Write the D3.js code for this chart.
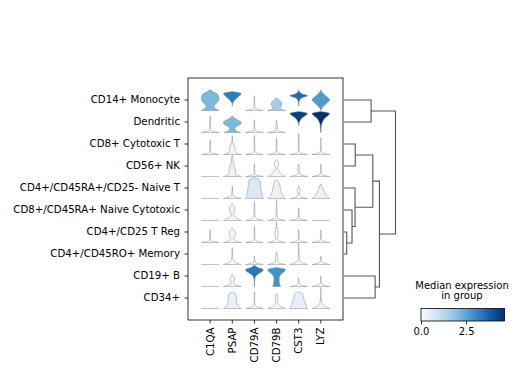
<!DOCTYPE html>
<html>
<head>
<meta charset="utf-8">
<script src="https://cdn.jsdelivr.net/npm/d3@7"></script>
<style>
  body { margin: 0; background: #fff; }
  svg { display: block; font-family: "DejaVu Sans", sans-serif; }
</style>
</head>
<body>
<svg id="chart" width="519" height="374"></svg>
<script>
const genes = ["C1QA", "PSAP", "CD79A", "CD79B", "CST3", "LYZ"];
const groups = ["CD14+ Monocyte", "Dendritic", "CD8+ Cytotoxic T", "CD56+ NK",
                "CD4+/CD45RA+/CD25- Naive T", "CD8+/CD45RA+ Naive Cytotoxic",
                "CD4+/CD25 T Reg", "CD4+/CD45RO+ Memory", "CD19+ B", "CD34+"];

// median expression per group (rows) and gene (columns)
const medians = [
  [2.1, 3.25, 0, 1.6, 3.55, 2.7],
  [0, 2.1, 0, 0.05, 4.4, 4.63],
  [0, 0.2, 0, 0, 0, 0],
  [0, 0.3, 0, 0.15, 0, 0],
  [0, 0.05, 0.7, 0.3, 0.1, 0.3],
  [0, 0.2, 0, 0.1, 0, 0],
  [0, 0.2, 0, 0.1, 0, 0],
  [0, 0.1, 0, 0.05, 0.1, 0],
  [0, 0.2, 3.35, 2.9, 0, 0],
  [0, 0.35, 0, 0.1, 0.45, 0.1]
];

// violin half widths (relative to widest) at 11 levels from 0 expression up to row max
const violinWidths = [
  [ [1.0, 0.6, 0.45, 0.6, 0.85, 0.97, 1.0, 0.95, 0.78, 0.3, 0],
    [0, 0, 0, 0.02, 0.12, 0.3, 0.55, 0.82, 1.0, 0, 0],
    [1.0, 0.12, 0.05, 0.03, 0.03, 0.03, 0.02, 0, 0, 0, 0],
    [1.0, 0.45, 0.5, 0.62, 0.55, 0.3, 0, 0, 0, 0, 0],
    [0, 0, 0, 0.02, 0.05, 0.12, 0.35, 1.0, 0.35, 0.06, 0],
    [0.02, 0.1, 0.3, 0.55, 0.8, 1.0, 0.85, 0.55, 0.3, 0.08, 0] ],
  [ [1.0, 0.12, 0.05, 0.03, 0.03, 0.03, 0.03, 0.02, 0, 0, 0],
    [0.95, 0.4, 0.3, 0.55, 0.95, 1.0, 0.6, 0.2, 0, 0, 0],
    [1.0, 0.1, 0.04, 0.03, 0.03, 0.02, 0, 0, 0, 0, 0],
    [1.0, 0.12, 0.06, 0.12, 0.05, 0.02, 0, 0, 0, 0, 0],
    [0, 0, 0, 0, 0.02, 0.08, 0.2, 0.4, 0.75, 1.0, 0],
    [0.02, 0.03, 0.04, 0.06, 0.1, 0.18, 0.3, 0.5, 0.8, 1.0, 0] ],
  [ [1.0, 0.12, 0.05, 0.03, 0.03, 0.03, 0.02, 0, 0, 0, 0],
    [1.0, 0.4, 0.3, 0.32, 0.25, 0.12, 0.05, 0.03, 0.02, 0, 0],
    [1.0, 0.12, 0.05, 0.03, 0.03, 0.03, 0.03, 0.03, 0.02, 0, 0],
    [1.0, 0.12, 0.05, 0.03, 0.03, 0.03, 0.03, 0.02, 0, 0, 0],
    [1.0, 0.14, 0.05, 0.03, 0.03, 0.03, 0.03, 0.03, 0.03, 0.02, 0],
    [1.0, 0.14, 0.05, 0.03, 0.03, 0.03, 0.03, 0.02, 0, 0, 0] ],
  [ [1.0, 0, 0, 0, 0, 0, 0, 0, 0, 0, 0],
    [1.0, 0.42, 0.36, 0.36, 0.33, 0.25, 0.14, 0.1, 0.1, 0.06, 0],
    [1.0, 0.12, 0.05, 0.03, 0.03, 0.02, 0, 0, 0, 0, 0],
    [1.0, 0.55, 0.35, 0.2, 0.12, 0.18, 0.25, 0.2, 0, 0, 0],
    [1.0, 0.15, 0.06, 0.08, 0.14, 0.05, 0, 0, 0, 0, 0],
    [1.0, 0.12, 0.05, 0.03, 0.03, 0.02, 0, 0, 0, 0, 0] ],
  [ [1.0, 0, 0, 0, 0, 0, 0, 0, 0, 0, 0],
    [1.0, 0.2, 0.08, 0.04, 0.03, 0.02, 0, 0, 0, 0, 0],
    [1.0, 0.92, 0.86, 0.8, 0.76, 0.73, 0.7, 0.68, 0.66, 0.55, 0],
    [1.0, 0.75, 0.6, 0.52, 0.46, 0.42, 0.38, 0.32, 0.22, 0, 0],
    [1.0, 0.2, 0.08, 0.12, 0.18, 0.05, 0, 0, 0, 0, 0],
    [1.0, 0.7, 0.55, 0.42, 0.32, 0.22, 0.12, 0, 0, 0, 0] ],
  [ [1.0, 0, 0, 0, 0, 0, 0, 0, 0, 0, 0],
    [1.0, 0.5, 0.25, 0.13, 0.22, 0.3, 0.3, 0.2, 0, 0, 0],
    [1.0, 0.25, 0.1, 0.06, 0.05, 0.04, 0.04, 0.03, 0.02, 0, 0],
    [1.0, 0.15, 0.06, 0.05, 0.1, 0.04, 0.03, 0.03, 0.03, 0.02, 0],
    [1.0, 0.12, 0.05, 0.03, 0.03, 0.02, 0, 0, 0, 0, 0],
    [1.0, 0, 0, 0, 0, 0, 0, 0, 0, 0, 0] ],
  [ [1.0, 0.1, 0.04, 0.03, 0.03, 0.02, 0, 0, 0, 0, 0],
    [1.0, 0.35, 0.18, 0.3, 0.36, 0.33, 0.2, 0, 0, 0, 0],
    [1.0, 0.12, 0.05, 0.03, 0.03, 0.03, 0.03, 0.02, 0, 0, 0],
    [1.0, 0.25, 0.1, 0.14, 0.18, 0.18, 0.13, 0.07, 0.03, 0.02, 0],
    [1.0, 0.12, 0.05, 0.03, 0.03, 0.02, 0, 0, 0, 0, 0],
    [1.0, 0.12, 0.05, 0.03, 0.03, 0.02, 0, 0, 0, 0, 0] ],
  [ [1.0, 0, 0, 0, 0, 0, 0, 0, 0, 0, 0],
    [1.0, 0.35, 0.15, 0.07, 0.05, 0.04, 0.03, 0.02, 0, 0, 0],
    [1.0, 0.12, 0.05, 0.02, 0, 0, 0, 0, 0, 0, 0],
    [1.0, 0.2, 0.1, 0.14, 0.12, 0.02, 0, 0, 0, 0, 0],
    [1.0, 0.3, 0.12, 0.06, 0.04, 0.03, 0.03, 0.03, 0.03, 0.02, 0],
    [1.0, 0.15, 0.05, 0.02, 0, 0, 0, 0, 0, 0, 0] ],
  [ [1.0, 0, 0, 0, 0, 0, 0, 0, 0, 0, 0],
    [1.0, 0.3, 0.15, 0.22, 0.25, 0.12, 0, 0, 0, 0, 0],
    [0.02, 0.03, 0.03, 0.04, 0.07, 0.18, 0.45, 0.85, 1.0, 0.4, 0.03],
    [0.45, 0.35, 0.32, 0.3, 0.3, 0.36, 0.55, 0.85, 1.0, 0, 0],
    [1.0, 0.15, 0.05, 0.02, 0, 0, 0, 0, 0, 0, 0],
    [1.0, 0.15, 0.05, 0.03, 0.02, 0, 0, 0, 0, 0, 0] ],
  [ [1.0, 0, 0, 0, 0, 0, 0, 0, 0, 0, 0],
    [1.0, 0.7, 0.55, 0.48, 0.46, 0.45, 0.43, 0.35, 0, 0, 0],
    [1.0, 0.2, 0.08, 0.04, 0.03, 0.03, 0.03, 0.02, 0, 0, 0],
    [1.0, 0.45, 0.2, 0.1, 0.15, 0.17, 0.12, 0, 0, 0, 0],
    [1.0, 0.88, 0.78, 0.7, 0.62, 0.56, 0.5, 0.45, 0, 0, 0],
    [1.0, 0.4, 0.2, 0.1, 0.06, 0.04, 0.03, 0.03, 0.03, 0.02, 0] ]
];

// dendrogram merges: [left, right, distance]; leaves are 0..9, new nodes numbered from 10
const linkage = [[0, 1, 27], [2, 3, 11.2], [6, 7, 2.7], [5, 12, 8], [4, 13, 11],
                 [11, 14, 28.7], [8, 9, 31], [15, 16, 35.3], [10, 17, 51.3]];

const colorbarTicks = [0, 2.5];
const vmax = 4.63;

const svg = d3.select("#chart");

const x = d3.scaleBand().domain(genes).range([188, 343]).paddingOuter(0.5);
const y = d3.scaleBand().domain(groups).range([78, 320]).paddingOuter(0.5);
const color = d3.scaleSequential(d3.interpolateBlues).domain([0, vmax]);
const level = d3.scaleLinear().domain([0, 10]).range([10.5, -10.5]);            // offset from row centre
const halfWidth = d3.scaleLinear().domain([0, 1]).range([0, x.step() * 0.4]);

const violinArea = d3.area()
    .curve(d3.curveMonotoneY)
    .y(d => level(d[0]))
    .x0(d => -halfWidth(d[1]))
    .x1(d => halfWidth(d[1]));

const violins = svg.append("g");
groups.forEach((grp, i) => {
    genes.forEach((gene, j) => {
        const w = violinWidths[i][j];
        const cx = x(gene) + x.bandwidth() / 2;
        const cy = y(grp) + y.bandwidth() / 2;
        const cell = violins.append("g").attr("transform", `translate(${cx},${cy})`);

        let last = w.length - 1;
        while (last > 0 && w[last] === 0) last--;
        let first = 0;
        while (first < last && w[first] === 0) first++;

        if (last === 0) {       // all cells at zero, seaborn draws just a flat line
            cell.append("line")
                .attr("x1", -halfWidth(1)).attr("x2", halfWidth(1))
                .attr("y1", level(0)).attr("y2", level(0))
                .attr("stroke", "#999").attr("stroke-width", 0.6);
            return;
        }
        const pts = w.map((v, k) => [k, v]).slice(Math.max(0, first - 1), Math.min(w.length, last + 2));
        cell.append("path")
            .attr("d", violinArea(pts))
            .attr("fill", color(medians[i][j]))
            .attr("stroke", "#8a8a8a")
            .attr("stroke-width", 0.5);
    });
});

// frame + axes
svg.append("rect")
    .attr("x", 188).attr("y", 78).attr("width", 155).attr("height", 242)
    .attr("fill", "none").attr("stroke", "#000").attr("stroke-width", 0.8);

const yAxis = svg.append("g")
    .attr("transform", "translate(188,0)")
    .call(d3.axisLeft(y).tickSize(3.5).tickPadding(4.5));
yAxis.select(".domain").remove();
yAxis.selectAll("line").attr("stroke-width", 0.8);
yAxis.selectAll("text").attr("font-size", 10.2).attr("font-family", "DejaVu Sans").attr("fill", "#000");

const xAxis = svg.append("g")
    .attr("transform", "translate(0,320)")
    .call(d3.axisBottom(x).tickSize(3.5));
xAxis.select(".domain").remove();
xAxis.selectAll("line").attr("stroke-width", 0.8);
xAxis.selectAll("text")
    .attr("font-size", 10.2).attr("font-family", "DejaVu Sans").attr("fill", "#000")
    .attr("transform", "rotate(-90)")
    .attr("text-anchor", "end")
    .attr("x", -7.5).attr("y", 0).attr("dy", "0.35em");

// dendrogram
const dist = d3.scaleLinear().domain([0, 51.3]).range([344, 395.5]);
const nodes = groups.map(g => ({ y: y(g) + y.bandwidth() / 2, h: 0 }));
const dendro = svg.append("g").attr("fill", "none").attr("stroke", "#555").attr("stroke-width", 1.1);
linkage.forEach(([a, b, h]) => {
    const na = nodes[a], nb = nodes[b];
    dendro.append("path")
        .attr("d", `M${dist(na.h)},${na.y}H${dist(h)}V${nb.y}H${dist(nb.h)}`);
    nodes.push({ y: (na.y + nb.y) / 2, h: h });
});

// colorbar
const cb = d3.scaleLinear().domain([0, vmax]).range([421, 504.5]);
const grad = svg.append("defs").append("linearGradient").attr("id", "blues");
d3.range(0, 1.0001, 0.1).forEach(t => {
    grad.append("stop").attr("offset", t).attr("stop-color", d3.interpolateBlues(t));
});
svg.append("rect")
    .attr("x", cb(0)).attr("y", 308.5).attr("width", cb(vmax) - cb(0)).attr("height", 12.5)
    .attr("fill", "url(#blues)").attr("stroke", "#000").attr("stroke-width", 0.8);
const cbAxis = svg.append("g")
    .attr("transform", "translate(0,321)")
    .call(d3.axisBottom(cb).tickValues(colorbarTicks).tickSize(3.5).tickFormat(d3.format(".1f")));
cbAxis.select(".domain").remove();
cbAxis.selectAll("line").attr("stroke-width", 0.8);
cbAxis.selectAll("text").attr("font-size", 10).attr("font-family", "DejaVu Sans").attr("fill", "#000");

svg.append("text").attr("x", 462).attr("y", 288.5).attr("text-anchor", "middle")
    .attr("font-size", 10).text("Median expression");
svg.append("text").attr("x", 462).attr("y", 299).attr("text-anchor", "middle")
    .attr("font-size", 10).text("in group");
</script>
</body>
</html>
